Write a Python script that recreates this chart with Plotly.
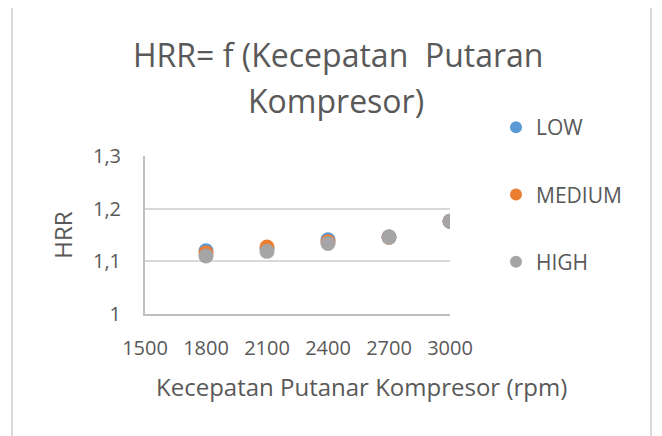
import plotly.graph_objects as go

speed = [1800, 2100, 2400, 2700, 3000]
hrr_low = [1.120, 1.124, 1.141, 1.146, 1.176]
hrr_medium = [1.116, 1.127, 1.137, 1.146, 1.176]
hrr_high = [1.110, 1.119, 1.134, 1.146, 1.176]
series_names = ["LOW", "MEDIUM", "HIGH"]
colors = ["#5B9BD5", "#ED7D31", "#A5A5A5"]
y_ticks = [1.0, 1.1, 1.2, 1.3]
x_ticks = [1500, 1800, 2100, 2400, 2700, 3000]

OFF = 8  # page body margin
W, H = 662 - OFF, 436 - OFF
# plot area in reference pixel coordinates
PX0, PX1, PY0, PY1 = 145, 450, 156, 314
L, T = PX0 - OFF, PY0 - OFF
R, B = W - (PX1 - OFF), H - (PY1 - OFF)
pw, ph = PX1 - PX0, PY1 - PY0

def px(x):
    return (x - PX0) / pw

def py(y):
    return (PY1 - y) / ph

FONT = "Open Sans"
TXT = "#595959"

fig = go.Figure()
for name, vals, col in zip(series_names, [hrr_low, hrr_medium, hrr_high], colors):
    fig.add_trace(go.Scatter(
        x=speed, y=vals, mode="markers", name=name, legendgroup=name,
        marker=dict(color=col, size=15, line=dict(width=0)),
    ))

fig.update_layout(
    width=W, height=H,
    margin=dict(l=L, r=R, t=T, b=B, autoexpand=False),
    paper_bgcolor="white", plot_bgcolor="white",
    separators=", ",
    font=dict(family=FONT, color=TXT, size=20),
    showlegend=True,
    legend=dict(
        x=px(496), y=py(107), xanchor="left", yanchor="top",
        traceorder="grouped", tracegroupgap=37,
        font=dict(family=FONT, size=21, color=TXT),
        itemsizing="constant", itemwidth=30, bgcolor="rgba(0,0,0,0)",
    ),
    xaxis=dict(
        range=[1500, 3000], tickvals=x_ticks, showgrid=False,
        showline=True, linecolor="#BFBFBF", linewidth=2, zeroline=False,
        ticks="", ticklabelstandoff=15,
        tickfont=dict(family=FONT, size=20, color=TXT),
    ),
    yaxis=dict(
        range=[1.0, 1.3], tickvals=y_ticks, showgrid=True, gridcolor="#D9D9D9",
        gridwidth=1.5, showline=True, linecolor="#BFBFBF", linewidth=2,
        zeroline=False, ticks="", ticklabelstandoff=18,
        tickfont=dict(family=FONT, size=20, color=TXT),
        title=dict(text="HRR", standoff=14,
                   font=dict(family=FONT, size=24, color=TXT)),
    ),
    shapes=[dict(
        type="rect", xref="paper", yref="paper",
        x0=px(12), x1=px(651), y0=py(440), y1=py(6),
        line=dict(color="#D9D9D9", width=2), fillcolor="rgba(0,0,0,0)", layer="below",
    )],
    annotations=[
        dict(text="HRR= f (Kecepatan  Putaran", xref="paper", yref="paper",
             x=px(338), y=py(55), xanchor="center", yanchor="middle",
             showarrow=False, font=dict(family=FONT, size=32, color=TXT)),
        dict(text="Kompresor)", xref="paper", yref="paper",
             x=px(336), y=py(100), xanchor="center", yanchor="middle",
             showarrow=False, font=dict(family=FONT, size=32, color=TXT)),
        dict(text="Kecepatan Putanar Kompresor (rpm)", xref="paper", yref="paper",
             x=px(361), y=py(386), xanchor="center", yanchor="middle",
             showarrow=False, font=dict(family=FONT, size=24, color=TXT)),
    ],
)

fig.write_html("out.html")
